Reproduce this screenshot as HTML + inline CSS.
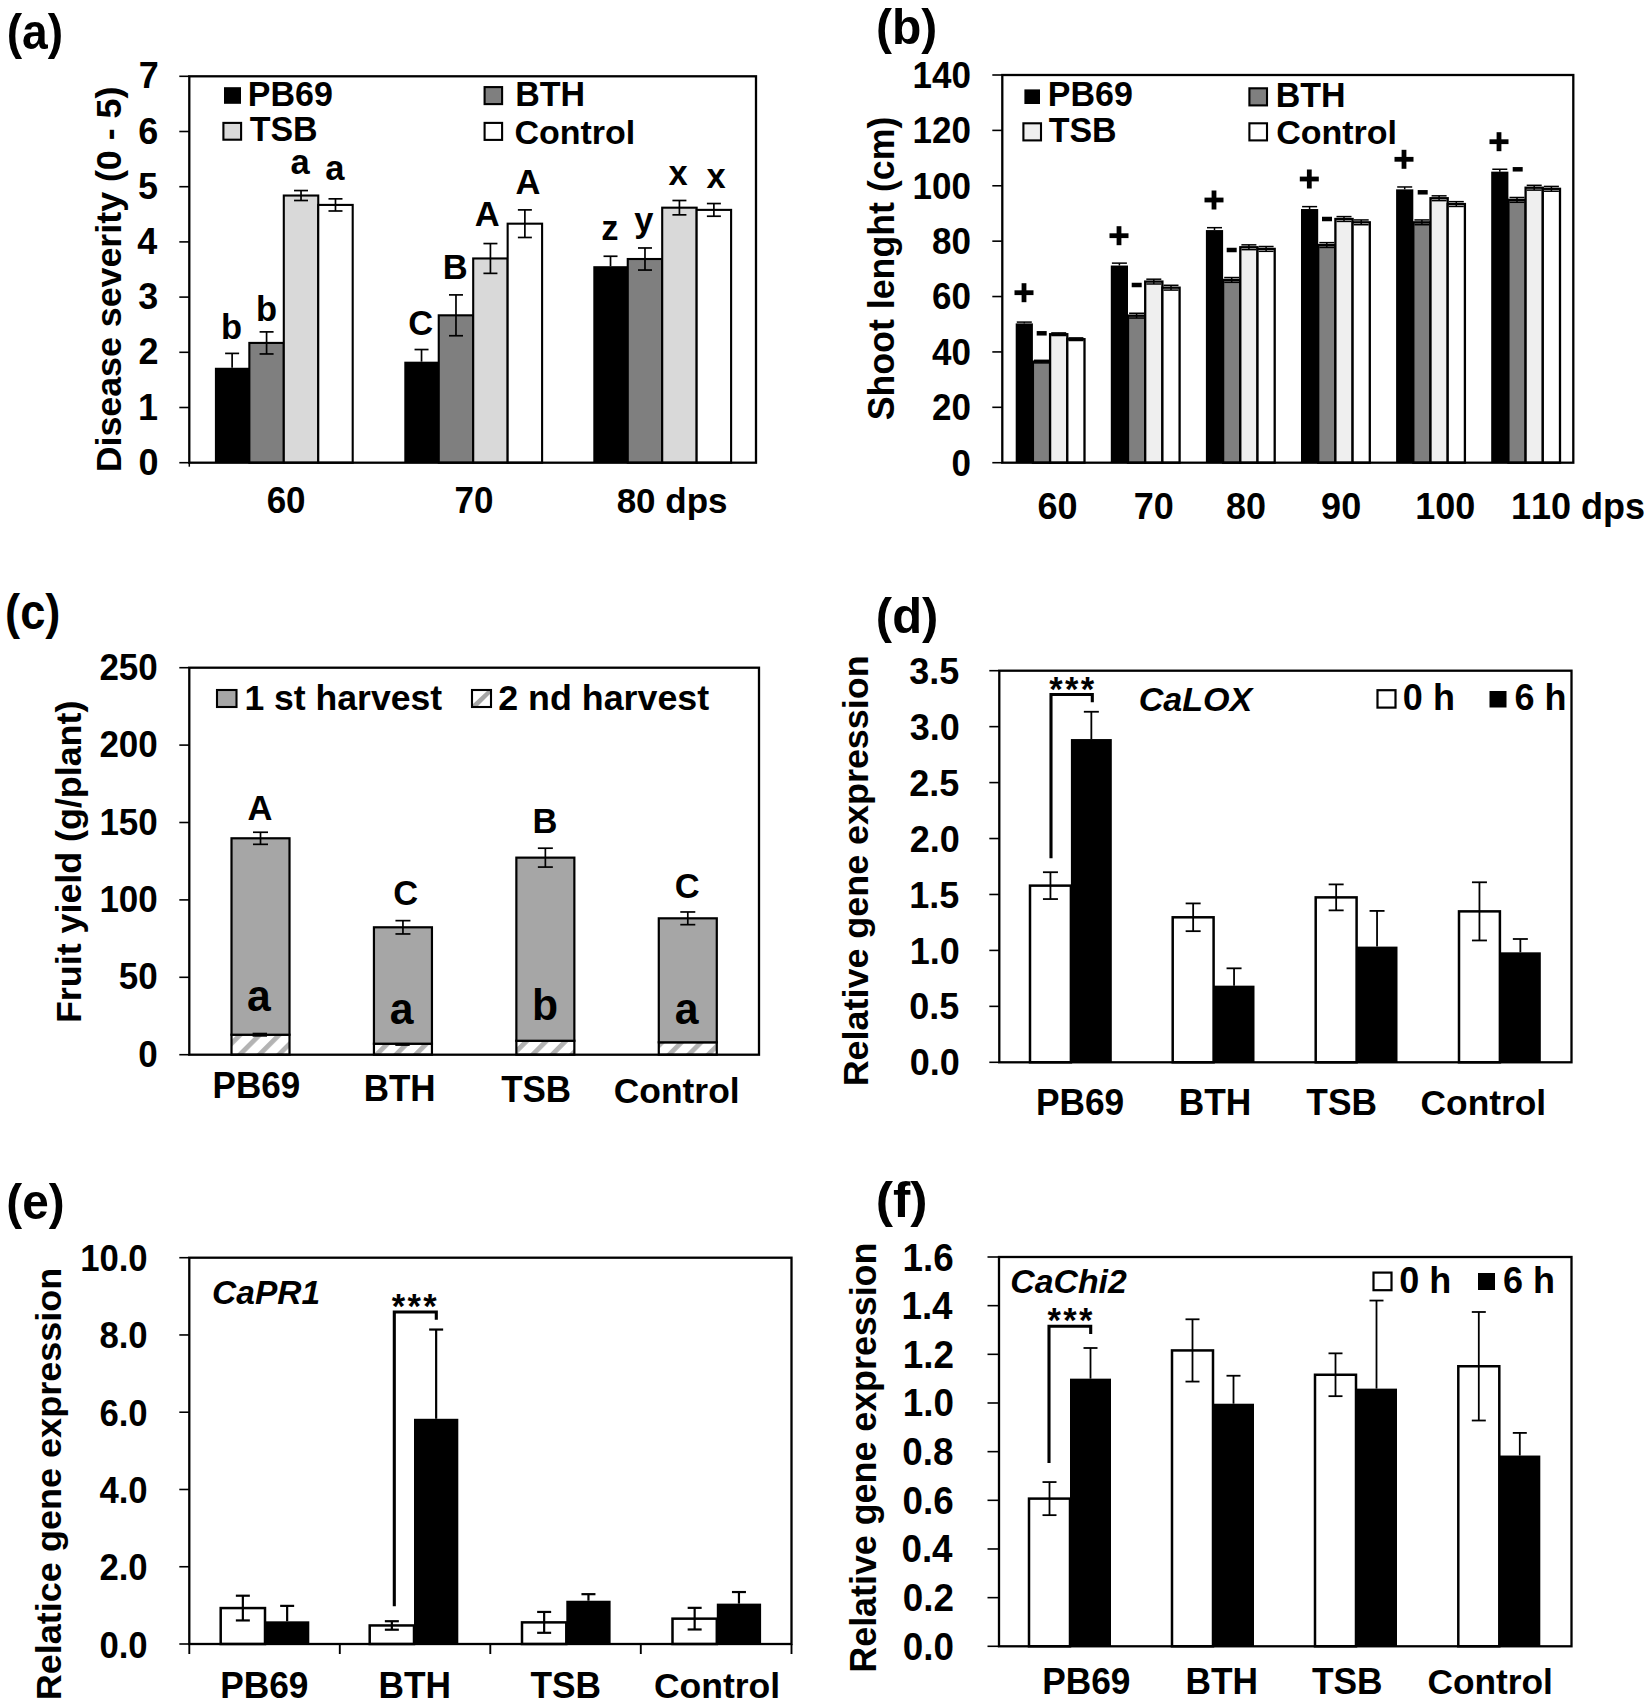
<!DOCTYPE html>
<html><head><meta charset="utf-8"><title>Figure</title>
<style>html,body{margin:0;padding:0;background:#fff}svg{display:block}text{font-kerning:none;font-family:"Liberation Sans",Arial,sans-serif;font-weight:bold}</style>
</head><body>
<svg width="1650" height="1707" viewBox="0 0 1650 1707">
<rect width="1650" height="1707" fill="#fff"/>
<defs><pattern id="h" width="13.8" height="13.8" patternUnits="userSpaceOnUse" patternTransform="translate(3,0) rotate(45)"><rect width="13.8" height="13.8" fill="#fff"/><rect x="0" width="4.8" height="13.8" fill="#b3b3b3"/></pattern><pattern id="h2" x="472" y="690" width="19" height="17" patternUnits="userSpaceOnUse"><rect width="19" height="17" fill="#fff"/><path d="M1,17 L1,14 L15,1 L18,1 L18,4 L5,17 Z" fill="#a6a6a6"/></pattern></defs>
<rect x="214.90" y="367.76" width="34.45" height="94.94" fill="#000" stroke="none" stroke-width="2.1"/>
<rect x="249.35" y="342.92" width="34.45" height="119.78" fill="#7f7f7f" stroke="#000" stroke-width="2.1"/>
<rect x="283.80" y="195.53" width="34.45" height="267.17" fill="#d9d9d9" stroke="#000" stroke-width="2.1"/>
<rect x="318.25" y="204.92" width="34.45" height="257.78" fill="#fff" stroke="#000" stroke-width="2.1"/>
<line x1="232.12" y1="353.40" x2="232.12" y2="367.76" stroke="#000" stroke-width="1.7" stroke-linecap="butt"/>
<line x1="225.12" y1="353.40" x2="239.12" y2="353.40" stroke="#000" stroke-width="1.7" stroke-linecap="butt"/>
<line x1="266.58" y1="331.88" x2="266.58" y2="353.96" stroke="#000" stroke-width="1.7" stroke-linecap="butt"/>
<line x1="259.58" y1="331.88" x2="273.58" y2="331.88" stroke="#000" stroke-width="1.7" stroke-linecap="butt"/>
<line x1="259.58" y1="353.96" x2="273.58" y2="353.96" stroke="#000" stroke-width="1.7" stroke-linecap="butt"/>
<line x1="301.03" y1="190.56" x2="301.03" y2="200.50" stroke="#000" stroke-width="1.7" stroke-linecap="butt"/>
<line x1="294.03" y1="190.56" x2="308.03" y2="190.56" stroke="#000" stroke-width="1.7" stroke-linecap="butt"/>
<line x1="294.03" y1="200.50" x2="308.03" y2="200.50" stroke="#000" stroke-width="1.7" stroke-linecap="butt"/>
<line x1="335.48" y1="198.84" x2="335.48" y2="210.99" stroke="#000" stroke-width="1.7" stroke-linecap="butt"/>
<line x1="328.48" y1="198.84" x2="342.48" y2="198.84" stroke="#000" stroke-width="1.7" stroke-linecap="butt"/>
<line x1="328.48" y1="210.99" x2="342.48" y2="210.99" stroke="#000" stroke-width="1.7" stroke-linecap="butt"/>
<rect x="404.30" y="361.68" width="34.45" height="101.02" fill="#000" stroke="none" stroke-width="2.1"/>
<rect x="438.75" y="315.32" width="34.45" height="147.38" fill="#7f7f7f" stroke="#000" stroke-width="2.1"/>
<rect x="473.20" y="258.46" width="34.45" height="204.24" fill="#d9d9d9" stroke="#000" stroke-width="2.1"/>
<rect x="507.65" y="223.68" width="34.45" height="239.02" fill="#fff" stroke="#000" stroke-width="2.1"/>
<line x1="421.53" y1="349.54" x2="421.53" y2="361.68" stroke="#000" stroke-width="1.7" stroke-linecap="butt"/>
<line x1="414.53" y1="349.54" x2="428.53" y2="349.54" stroke="#000" stroke-width="1.7" stroke-linecap="butt"/>
<line x1="455.98" y1="294.89" x2="455.98" y2="335.74" stroke="#000" stroke-width="1.7" stroke-linecap="butt"/>
<line x1="448.98" y1="294.89" x2="462.98" y2="294.89" stroke="#000" stroke-width="1.7" stroke-linecap="butt"/>
<line x1="448.98" y1="335.74" x2="462.98" y2="335.74" stroke="#000" stroke-width="1.7" stroke-linecap="butt"/>
<line x1="490.43" y1="243.56" x2="490.43" y2="273.36" stroke="#000" stroke-width="1.7" stroke-linecap="butt"/>
<line x1="483.43" y1="243.56" x2="497.43" y2="243.56" stroke="#000" stroke-width="1.7" stroke-linecap="butt"/>
<line x1="483.43" y1="273.36" x2="497.43" y2="273.36" stroke="#000" stroke-width="1.7" stroke-linecap="butt"/>
<line x1="524.88" y1="209.88" x2="524.88" y2="237.48" stroke="#000" stroke-width="1.7" stroke-linecap="butt"/>
<line x1="517.88" y1="209.88" x2="531.88" y2="209.88" stroke="#000" stroke-width="1.7" stroke-linecap="butt"/>
<line x1="517.88" y1="237.48" x2="531.88" y2="237.48" stroke="#000" stroke-width="1.7" stroke-linecap="butt"/>
<rect x="593.30" y="266.19" width="34.45" height="196.51" fill="#000" stroke="none" stroke-width="2.1"/>
<rect x="627.75" y="259.01" width="34.45" height="203.69" fill="#7f7f7f" stroke="#000" stroke-width="2.1"/>
<rect x="662.20" y="207.68" width="34.45" height="255.02" fill="#d9d9d9" stroke="#000" stroke-width="2.1"/>
<rect x="696.65" y="209.88" width="34.45" height="252.82" fill="#fff" stroke="#000" stroke-width="2.1"/>
<line x1="610.52" y1="256.25" x2="610.52" y2="266.19" stroke="#000" stroke-width="1.7" stroke-linecap="butt"/>
<line x1="603.52" y1="256.25" x2="617.52" y2="256.25" stroke="#000" stroke-width="1.7" stroke-linecap="butt"/>
<line x1="644.98" y1="247.97" x2="644.98" y2="270.05" stroke="#000" stroke-width="1.7" stroke-linecap="butt"/>
<line x1="637.98" y1="247.97" x2="651.98" y2="247.97" stroke="#000" stroke-width="1.7" stroke-linecap="butt"/>
<line x1="637.98" y1="270.05" x2="651.98" y2="270.05" stroke="#000" stroke-width="1.7" stroke-linecap="butt"/>
<line x1="679.42" y1="200.50" x2="679.42" y2="214.85" stroke="#000" stroke-width="1.7" stroke-linecap="butt"/>
<line x1="672.42" y1="200.50" x2="686.42" y2="200.50" stroke="#000" stroke-width="1.7" stroke-linecap="butt"/>
<line x1="672.42" y1="214.85" x2="686.42" y2="214.85" stroke="#000" stroke-width="1.7" stroke-linecap="butt"/>
<line x1="713.88" y1="203.54" x2="713.88" y2="216.23" stroke="#000" stroke-width="1.7" stroke-linecap="butt"/>
<line x1="706.88" y1="203.54" x2="720.88" y2="203.54" stroke="#000" stroke-width="1.7" stroke-linecap="butt"/>
<line x1="706.88" y1="216.23" x2="720.88" y2="216.23" stroke="#000" stroke-width="1.7" stroke-linecap="butt"/>
<rect x="189.30" y="76.30" width="566.70" height="386.40" fill="none" stroke="#000" stroke-width="2.3"/>
<line x1="189.30" y1="462.70" x2="189.30" y2="466.70" stroke="#000" stroke-width="1.5" stroke-linecap="butt"/>
<line x1="179.30" y1="462.70" x2="189.30" y2="462.70" stroke="#000" stroke-width="1.6" stroke-linecap="butt"/>
<text transform="translate(138.46,474.80) scale(1.0000,1.040)" font-size="36" fill="#000">0</text>
<line x1="179.30" y1="407.50" x2="189.30" y2="407.50" stroke="#000" stroke-width="1.6" stroke-linecap="butt"/>
<text transform="translate(137.92,419.60) scale(1.0000,1.040)" font-size="36" fill="#000">1</text>
<line x1="179.30" y1="352.30" x2="189.30" y2="352.30" stroke="#000" stroke-width="1.6" stroke-linecap="butt"/>
<text transform="translate(138.46,364.40) scale(1.0000,1.040)" font-size="36" fill="#000">2</text>
<line x1="179.30" y1="297.10" x2="189.30" y2="297.10" stroke="#000" stroke-width="1.6" stroke-linecap="butt"/>
<text transform="translate(138.28,309.20) scale(1.0000,1.040)" font-size="36" fill="#000">3</text>
<line x1="179.30" y1="241.90" x2="189.30" y2="241.90" stroke="#000" stroke-width="1.6" stroke-linecap="butt"/>
<text transform="translate(137.20,254.00) scale(1.0000,1.040)" font-size="36" fill="#000">4</text>
<line x1="179.30" y1="186.70" x2="189.30" y2="186.70" stroke="#000" stroke-width="1.6" stroke-linecap="butt"/>
<text transform="translate(137.92,198.80) scale(1.0000,1.040)" font-size="36" fill="#000">5</text>
<line x1="179.30" y1="131.50" x2="189.30" y2="131.50" stroke="#000" stroke-width="1.6" stroke-linecap="butt"/>
<text transform="translate(138.28,143.60) scale(1.0000,1.040)" font-size="36" fill="#000">6</text>
<line x1="179.30" y1="76.30" x2="189.30" y2="76.30" stroke="#000" stroke-width="1.6" stroke-linecap="butt"/>
<text transform="translate(138.64,88.40) scale(1.0000,1.040)" font-size="36" fill="#000">7</text>
<text transform="translate(121.00,472.33) rotate(-90) scale(0.9937,1)" font-size="36">Disease severity (0 - 5)</text>
<rect x="224.00" y="87.20" width="17.00" height="16.60" fill="#000" stroke="none" stroke-width="2.1"/>
<text transform="translate(247.79,106.00) scale(1.0000,1.040)" font-size="34" fill="#000">PB69</text>
<rect x="223.40" y="122.90" width="17.70" height="16.80" fill="#d9d9d9" stroke="#000" stroke-width="2.1"/>
<text transform="translate(249.66,141.30) scale(1.0000,1.040)" font-size="34" fill="#000">TSB</text>
<rect x="484.60" y="87.10" width="17.50" height="17.00" fill="#7f7f7f" stroke="#000" stroke-width="2.1"/>
<text transform="translate(515.29,106.00) scale(1.0000,1.040)" font-size="34" fill="#000">BTH</text>
<rect x="484.60" y="122.90" width="17.50" height="17.00" fill="#fff" stroke="#000" stroke-width="2.1"/>
<text transform="translate(514.44,144.00)" font-size="34" fill="#000">Control</text>
<text transform="translate(221.05,338.50)" font-size="34.5" fill="#000">b</text>
<text transform="translate(256.05,320.50)" font-size="34.5" fill="#000">b</text>
<text transform="translate(290.57,173.75)" font-size="34.5" fill="#000">a</text>
<text transform="translate(325.22,180.00)" font-size="34.5" fill="#000">a</text>
<text transform="translate(408.32,334.50) scale(1.0000,1.040)" font-size="34.5" fill="#000">C</text>
<text transform="translate(442.84,278.50) scale(1.0000,1.040)" font-size="34.5" fill="#000">B</text>
<text transform="translate(474.83,225.50) scale(1.0000,1.040)" font-size="34.5" fill="#000">A</text>
<text transform="translate(515.58,193.75) scale(1.0000,1.040)" font-size="34.5" fill="#000">A</text>
<text transform="translate(601.29,239.50)" font-size="34.5" fill="#000">z</text>
<text transform="translate(634.34,232.00)" font-size="34.5" fill="#000">y</text>
<text transform="translate(668.43,184.50)" font-size="34.5" fill="#000">x</text>
<text transform="translate(706.43,188.00)" font-size="34.5" fill="#000">x</text>
<text transform="translate(266.66,512.50) scale(1.0000,1.040)" font-size="35" fill="#000">60</text>
<text transform="translate(454.49,512.50) scale(1.0000,1.040)" font-size="35" fill="#000">70</text>
<text transform="translate(616.65,512.50)" font-size="35" fill="#000">80 dps</text>
<text transform="translate(6.69,48.50) scale(0.9244,1.000)" font-size="50" fill="#000">(a)</text>
<rect x="1015.70" y="323.40" width="17.20" height="139.30" fill="#000" stroke="none" stroke-width="2.3"/>
<rect x="1032.90" y="361.62" width="17.20" height="101.08" fill="#7f7f7f" stroke="#000" stroke-width="2.3"/>
<rect x="1050.10" y="334.21" width="17.20" height="128.49" fill="#efefef" stroke="#000" stroke-width="2.3"/>
<rect x="1067.30" y="339.19" width="17.20" height="123.51" fill="#fff" stroke="#000" stroke-width="2.3"/>
<line x1="1024.30" y1="322.10" x2="1024.30" y2="323.40" stroke="#000" stroke-width="1.5" stroke-linecap="butt"/>
<line x1="1016.80" y1="322.10" x2="1031.80" y2="322.10" stroke="#000" stroke-width="1.5" stroke-linecap="butt"/>
<line x1="1041.50" y1="360.32" x2="1041.50" y2="362.92" stroke="#000" stroke-width="1.5" stroke-linecap="butt"/>
<line x1="1034.00" y1="360.32" x2="1049.00" y2="360.32" stroke="#000" stroke-width="1.5" stroke-linecap="butt"/>
<line x1="1034.00" y1="362.92" x2="1049.00" y2="362.92" stroke="#000" stroke-width="1.5" stroke-linecap="butt"/>
<line x1="1058.70" y1="332.91" x2="1058.70" y2="335.51" stroke="#000" stroke-width="1.5" stroke-linecap="butt"/>
<line x1="1051.20" y1="332.91" x2="1066.20" y2="332.91" stroke="#000" stroke-width="1.5" stroke-linecap="butt"/>
<line x1="1051.20" y1="335.51" x2="1066.20" y2="335.51" stroke="#000" stroke-width="1.5" stroke-linecap="butt"/>
<line x1="1075.90" y1="337.89" x2="1075.90" y2="340.49" stroke="#000" stroke-width="1.5" stroke-linecap="butt"/>
<line x1="1068.40" y1="337.89" x2="1083.40" y2="337.89" stroke="#000" stroke-width="1.5" stroke-linecap="butt"/>
<line x1="1068.40" y1="340.49" x2="1083.40" y2="340.49" stroke="#000" stroke-width="1.5" stroke-linecap="butt"/>
<rect x="1110.80" y="265.53" width="17.20" height="197.17" fill="#000" stroke="none" stroke-width="2.3"/>
<rect x="1128.00" y="315.65" width="17.20" height="147.05" fill="#7f7f7f" stroke="#000" stroke-width="2.3"/>
<rect x="1145.20" y="281.59" width="17.20" height="181.11" fill="#efefef" stroke="#000" stroke-width="2.3"/>
<rect x="1162.40" y="287.68" width="17.20" height="175.02" fill="#fff" stroke="#000" stroke-width="2.3"/>
<line x1="1119.40" y1="263.13" x2="1119.40" y2="265.53" stroke="#000" stroke-width="1.5" stroke-linecap="butt"/>
<line x1="1111.90" y1="263.13" x2="1126.90" y2="263.13" stroke="#000" stroke-width="1.5" stroke-linecap="butt"/>
<line x1="1136.60" y1="313.25" x2="1136.60" y2="318.05" stroke="#000" stroke-width="1.5" stroke-linecap="butt"/>
<line x1="1129.10" y1="313.25" x2="1144.10" y2="313.25" stroke="#000" stroke-width="1.5" stroke-linecap="butt"/>
<line x1="1129.10" y1="318.05" x2="1144.10" y2="318.05" stroke="#000" stroke-width="1.5" stroke-linecap="butt"/>
<line x1="1153.80" y1="279.19" x2="1153.80" y2="283.99" stroke="#000" stroke-width="1.5" stroke-linecap="butt"/>
<line x1="1146.30" y1="279.19" x2="1161.30" y2="279.19" stroke="#000" stroke-width="1.5" stroke-linecap="butt"/>
<line x1="1146.30" y1="283.99" x2="1161.30" y2="283.99" stroke="#000" stroke-width="1.5" stroke-linecap="butt"/>
<line x1="1171.00" y1="285.28" x2="1171.00" y2="290.08" stroke="#000" stroke-width="1.5" stroke-linecap="butt"/>
<line x1="1163.50" y1="285.28" x2="1178.50" y2="285.28" stroke="#000" stroke-width="1.5" stroke-linecap="butt"/>
<line x1="1163.50" y1="290.08" x2="1178.50" y2="290.08" stroke="#000" stroke-width="1.5" stroke-linecap="butt"/>
<rect x="1205.90" y="230.08" width="17.20" height="232.62" fill="#000" stroke="none" stroke-width="2.3"/>
<rect x="1223.10" y="279.93" width="17.20" height="182.77" fill="#7f7f7f" stroke="#000" stroke-width="2.3"/>
<rect x="1240.30" y="247.25" width="17.20" height="215.45" fill="#efefef" stroke="#000" stroke-width="2.3"/>
<rect x="1257.50" y="248.91" width="17.20" height="213.79" fill="#fff" stroke="#000" stroke-width="2.3"/>
<line x1="1214.50" y1="227.68" x2="1214.50" y2="230.08" stroke="#000" stroke-width="1.5" stroke-linecap="butt"/>
<line x1="1207.00" y1="227.68" x2="1222.00" y2="227.68" stroke="#000" stroke-width="1.5" stroke-linecap="butt"/>
<line x1="1231.70" y1="277.53" x2="1231.70" y2="282.33" stroke="#000" stroke-width="1.5" stroke-linecap="butt"/>
<line x1="1224.20" y1="277.53" x2="1239.20" y2="277.53" stroke="#000" stroke-width="1.5" stroke-linecap="butt"/>
<line x1="1224.20" y1="282.33" x2="1239.20" y2="282.33" stroke="#000" stroke-width="1.5" stroke-linecap="butt"/>
<line x1="1248.90" y1="244.85" x2="1248.90" y2="249.65" stroke="#000" stroke-width="1.5" stroke-linecap="butt"/>
<line x1="1241.40" y1="244.85" x2="1256.40" y2="244.85" stroke="#000" stroke-width="1.5" stroke-linecap="butt"/>
<line x1="1241.40" y1="249.65" x2="1256.40" y2="249.65" stroke="#000" stroke-width="1.5" stroke-linecap="butt"/>
<line x1="1266.10" y1="246.51" x2="1266.10" y2="251.31" stroke="#000" stroke-width="1.5" stroke-linecap="butt"/>
<line x1="1258.60" y1="246.51" x2="1273.60" y2="246.51" stroke="#000" stroke-width="1.5" stroke-linecap="butt"/>
<line x1="1258.60" y1="251.31" x2="1273.60" y2="251.31" stroke="#000" stroke-width="1.5" stroke-linecap="butt"/>
<rect x="1301.00" y="209.03" width="17.20" height="253.67" fill="#000" stroke="none" stroke-width="2.3"/>
<rect x="1318.20" y="245.03" width="17.20" height="217.67" fill="#7f7f7f" stroke="#000" stroke-width="2.3"/>
<rect x="1335.40" y="219.00" width="17.20" height="243.70" fill="#efefef" stroke="#000" stroke-width="2.3"/>
<rect x="1352.60" y="222.33" width="17.20" height="240.37" fill="#fff" stroke="#000" stroke-width="2.3"/>
<line x1="1309.60" y1="206.63" x2="1309.60" y2="209.03" stroke="#000" stroke-width="1.5" stroke-linecap="butt"/>
<line x1="1302.10" y1="206.63" x2="1317.10" y2="206.63" stroke="#000" stroke-width="1.5" stroke-linecap="butt"/>
<line x1="1326.80" y1="242.63" x2="1326.80" y2="247.43" stroke="#000" stroke-width="1.5" stroke-linecap="butt"/>
<line x1="1319.30" y1="242.63" x2="1334.30" y2="242.63" stroke="#000" stroke-width="1.5" stroke-linecap="butt"/>
<line x1="1319.30" y1="247.43" x2="1334.30" y2="247.43" stroke="#000" stroke-width="1.5" stroke-linecap="butt"/>
<line x1="1344.00" y1="216.60" x2="1344.00" y2="221.40" stroke="#000" stroke-width="1.5" stroke-linecap="butt"/>
<line x1="1336.50" y1="216.60" x2="1351.50" y2="216.60" stroke="#000" stroke-width="1.5" stroke-linecap="butt"/>
<line x1="1336.50" y1="221.40" x2="1351.50" y2="221.40" stroke="#000" stroke-width="1.5" stroke-linecap="butt"/>
<line x1="1361.20" y1="219.93" x2="1361.20" y2="224.73" stroke="#000" stroke-width="1.5" stroke-linecap="butt"/>
<line x1="1353.70" y1="219.93" x2="1368.70" y2="219.93" stroke="#000" stroke-width="1.5" stroke-linecap="butt"/>
<line x1="1353.70" y1="224.73" x2="1368.70" y2="224.73" stroke="#000" stroke-width="1.5" stroke-linecap="butt"/>
<rect x="1396.10" y="189.37" width="17.20" height="273.33" fill="#000" stroke="none" stroke-width="2.3"/>
<rect x="1413.30" y="222.33" width="17.20" height="240.37" fill="#7f7f7f" stroke="#000" stroke-width="2.3"/>
<rect x="1430.50" y="198.23" width="17.20" height="264.47" fill="#efefef" stroke="#000" stroke-width="2.3"/>
<rect x="1447.70" y="204.05" width="17.20" height="258.65" fill="#fff" stroke="#000" stroke-width="2.3"/>
<line x1="1404.70" y1="186.97" x2="1404.70" y2="189.37" stroke="#000" stroke-width="1.5" stroke-linecap="butt"/>
<line x1="1397.20" y1="186.97" x2="1412.20" y2="186.97" stroke="#000" stroke-width="1.5" stroke-linecap="butt"/>
<line x1="1421.90" y1="219.93" x2="1421.90" y2="224.73" stroke="#000" stroke-width="1.5" stroke-linecap="butt"/>
<line x1="1414.40" y1="219.93" x2="1429.40" y2="219.93" stroke="#000" stroke-width="1.5" stroke-linecap="butt"/>
<line x1="1414.40" y1="224.73" x2="1429.40" y2="224.73" stroke="#000" stroke-width="1.5" stroke-linecap="butt"/>
<line x1="1439.10" y1="195.83" x2="1439.10" y2="200.63" stroke="#000" stroke-width="1.5" stroke-linecap="butt"/>
<line x1="1431.60" y1="195.83" x2="1446.60" y2="195.83" stroke="#000" stroke-width="1.5" stroke-linecap="butt"/>
<line x1="1431.60" y1="200.63" x2="1446.60" y2="200.63" stroke="#000" stroke-width="1.5" stroke-linecap="butt"/>
<line x1="1456.30" y1="201.65" x2="1456.30" y2="206.45" stroke="#000" stroke-width="1.5" stroke-linecap="butt"/>
<line x1="1448.80" y1="201.65" x2="1463.80" y2="201.65" stroke="#000" stroke-width="1.5" stroke-linecap="butt"/>
<line x1="1448.80" y1="206.45" x2="1463.80" y2="206.45" stroke="#000" stroke-width="1.5" stroke-linecap="butt"/>
<rect x="1491.20" y="171.65" width="17.20" height="291.05" fill="#000" stroke="none" stroke-width="2.3"/>
<rect x="1508.40" y="199.89" width="17.20" height="262.81" fill="#7f7f7f" stroke="#000" stroke-width="2.3"/>
<rect x="1525.60" y="187.71" width="17.20" height="274.99" fill="#efefef" stroke="#000" stroke-width="2.3"/>
<rect x="1542.80" y="188.82" width="17.20" height="273.88" fill="#fff" stroke="#000" stroke-width="2.3"/>
<line x1="1499.80" y1="169.25" x2="1499.80" y2="171.65" stroke="#000" stroke-width="1.5" stroke-linecap="butt"/>
<line x1="1492.30" y1="169.25" x2="1507.30" y2="169.25" stroke="#000" stroke-width="1.5" stroke-linecap="butt"/>
<line x1="1517.00" y1="197.49" x2="1517.00" y2="202.29" stroke="#000" stroke-width="1.5" stroke-linecap="butt"/>
<line x1="1509.50" y1="197.49" x2="1524.50" y2="197.49" stroke="#000" stroke-width="1.5" stroke-linecap="butt"/>
<line x1="1509.50" y1="202.29" x2="1524.50" y2="202.29" stroke="#000" stroke-width="1.5" stroke-linecap="butt"/>
<line x1="1534.20" y1="185.31" x2="1534.20" y2="190.11" stroke="#000" stroke-width="1.5" stroke-linecap="butt"/>
<line x1="1526.70" y1="185.31" x2="1541.70" y2="185.31" stroke="#000" stroke-width="1.5" stroke-linecap="butt"/>
<line x1="1526.70" y1="190.11" x2="1541.70" y2="190.11" stroke="#000" stroke-width="1.5" stroke-linecap="butt"/>
<line x1="1551.40" y1="186.42" x2="1551.40" y2="191.22" stroke="#000" stroke-width="1.5" stroke-linecap="butt"/>
<line x1="1543.90" y1="186.42" x2="1558.90" y2="186.42" stroke="#000" stroke-width="1.5" stroke-linecap="butt"/>
<line x1="1543.90" y1="191.22" x2="1558.90" y2="191.22" stroke="#000" stroke-width="1.5" stroke-linecap="butt"/>
<rect x="1002.30" y="75.00" width="571.00" height="387.70" fill="none" stroke="#000" stroke-width="2.3"/>
<line x1="992.30" y1="462.70" x2="1002.30" y2="462.70" stroke="#000" stroke-width="1.6" stroke-linecap="butt"/>
<text transform="translate(951.48,475.60) scale(1.0000,1.040)" font-size="35" fill="#000">0</text>
<line x1="992.30" y1="407.31" x2="1002.30" y2="407.31" stroke="#000" stroke-width="1.6" stroke-linecap="butt"/>
<text transform="translate(932.05,420.21) scale(1.0000,1.040)" font-size="35" fill="#000">20</text>
<line x1="992.30" y1="351.93" x2="1002.30" y2="351.93" stroke="#000" stroke-width="1.6" stroke-linecap="butt"/>
<text transform="translate(932.05,364.83) scale(1.0000,1.040)" font-size="35" fill="#000">40</text>
<line x1="992.30" y1="296.54" x2="1002.30" y2="296.54" stroke="#000" stroke-width="1.6" stroke-linecap="butt"/>
<text transform="translate(932.05,309.44) scale(1.0000,1.040)" font-size="35" fill="#000">60</text>
<line x1="992.30" y1="241.16" x2="1002.30" y2="241.16" stroke="#000" stroke-width="1.6" stroke-linecap="butt"/>
<text transform="translate(932.05,254.06) scale(1.0000,1.040)" font-size="35" fill="#000">80</text>
<line x1="992.30" y1="185.77" x2="1002.30" y2="185.77" stroke="#000" stroke-width="1.6" stroke-linecap="butt"/>
<text transform="translate(912.62,198.67) scale(1.0000,1.040)" font-size="35" fill="#000">100</text>
<line x1="992.30" y1="130.39" x2="1002.30" y2="130.39" stroke="#000" stroke-width="1.6" stroke-linecap="butt"/>
<text transform="translate(912.62,143.29) scale(1.0000,1.040)" font-size="35" fill="#000">120</text>
<line x1="992.30" y1="75.00" x2="1002.30" y2="75.00" stroke="#000" stroke-width="1.6" stroke-linecap="butt"/>
<text transform="translate(912.62,87.90) scale(1.0000,1.040)" font-size="35" fill="#000">140</text>
<text transform="translate(894.00,420.37) rotate(-90) scale(0.9930,1)" font-size="36">Shoot lenght (cm)</text>
<rect x="1024.40" y="89.40" width="15.60" height="14.60" fill="#000" stroke="none" stroke-width="2.1"/>
<text transform="translate(1047.79,106.25) scale(1.0000,1.040)" font-size="34" fill="#000">PB69</text>
<rect x="1023.40" y="123.30" width="17.60" height="17.10" fill="#efefef" stroke="#000" stroke-width="2.1"/>
<text transform="translate(1048.66,142.00) scale(1.0000,1.040)" font-size="34" fill="#000">TSB</text>
<rect x="1249.40" y="88.30" width="17.60" height="17.10" fill="#7f7f7f" stroke="#000" stroke-width="2.1"/>
<text transform="translate(1275.79,107.00) scale(1.0000,1.040)" font-size="34" fill="#000">BTH</text>
<rect x="1249.40" y="123.30" width="17.60" height="17.10" fill="#fff" stroke="#000" stroke-width="2.1"/>
<text transform="translate(1276.14,144.25)" font-size="34" fill="#000">Control</text>
<line x1="1014.50" y1="292.70" x2="1033.50" y2="292.70" stroke="#000" stroke-width="4.8" stroke-linecap="butt"/>
<line x1="1024.00" y1="283.20" x2="1024.00" y2="302.20" stroke="#000" stroke-width="4.8" stroke-linecap="butt"/>
<line x1="1109.50" y1="235.70" x2="1128.50" y2="235.70" stroke="#000" stroke-width="4.8" stroke-linecap="butt"/>
<line x1="1119.00" y1="226.20" x2="1119.00" y2="245.20" stroke="#000" stroke-width="4.8" stroke-linecap="butt"/>
<line x1="1204.50" y1="200.00" x2="1223.50" y2="200.00" stroke="#000" stroke-width="4.8" stroke-linecap="butt"/>
<line x1="1214.00" y1="190.50" x2="1214.00" y2="209.50" stroke="#000" stroke-width="4.8" stroke-linecap="butt"/>
<line x1="1299.80" y1="179.00" x2="1318.80" y2="179.00" stroke="#000" stroke-width="4.8" stroke-linecap="butt"/>
<line x1="1309.30" y1="169.50" x2="1309.30" y2="188.50" stroke="#000" stroke-width="4.8" stroke-linecap="butt"/>
<line x1="1394.50" y1="159.30" x2="1413.50" y2="159.30" stroke="#000" stroke-width="4.8" stroke-linecap="butt"/>
<line x1="1404.00" y1="149.80" x2="1404.00" y2="168.80" stroke="#000" stroke-width="4.8" stroke-linecap="butt"/>
<line x1="1489.50" y1="141.70" x2="1508.50" y2="141.70" stroke="#000" stroke-width="4.8" stroke-linecap="butt"/>
<line x1="1499.00" y1="132.20" x2="1499.00" y2="151.20" stroke="#000" stroke-width="4.8" stroke-linecap="butt"/>
<line x1="1036.70" y1="333.30" x2="1046.70" y2="333.30" stroke="#000" stroke-width="4.5" stroke-linecap="butt"/>
<line x1="1131.70" y1="285.00" x2="1141.70" y2="285.00" stroke="#000" stroke-width="4.5" stroke-linecap="butt"/>
<line x1="1226.70" y1="250.00" x2="1236.70" y2="250.00" stroke="#000" stroke-width="4.5" stroke-linecap="butt"/>
<line x1="1322.00" y1="219.00" x2="1332.00" y2="219.00" stroke="#000" stroke-width="4.5" stroke-linecap="butt"/>
<line x1="1417.70" y1="192.30" x2="1427.70" y2="192.30" stroke="#000" stroke-width="4.5" stroke-linecap="butt"/>
<line x1="1512.70" y1="169.30" x2="1522.70" y2="169.30" stroke="#000" stroke-width="4.5" stroke-linecap="butt"/>
<text transform="translate(1037.41,518.50) scale(1.0000,1.040)" font-size="36" fill="#000">60</text>
<text transform="translate(1133.63,518.50) scale(1.0000,1.040)" font-size="36" fill="#000">70</text>
<text transform="translate(1225.90,518.50) scale(1.0000,1.040)" font-size="36" fill="#000">80</text>
<text transform="translate(1321.11,518.50) scale(1.0000,1.040)" font-size="36" fill="#000">90</text>
<text transform="translate(1415.28,518.50) scale(1.0000,1.040)" font-size="36" fill="#000">100</text>
<text transform="translate(1510.96,518.50)" font-size="36" fill="#000">110 dps</text>
<text transform="translate(875.90,43.75) scale(0.9610,1.000)" font-size="50" fill="#000">(b)</text>
<rect x="231.51" y="1034.73" width="58.00" height="19.97" fill="url(#h)" stroke="#000" stroke-width="2.2"/>
<rect x="231.51" y="838.29" width="58.00" height="196.44" fill="#a6a6a6" stroke="#000" stroke-width="2.2"/>
<line x1="260.51" y1="832.25" x2="260.51" y2="844.33" stroke="#000" stroke-width="1.7" stroke-linecap="butt"/>
<line x1="253.01" y1="832.25" x2="268.01" y2="832.25" stroke="#000" stroke-width="1.7" stroke-linecap="butt"/>
<line x1="253.01" y1="844.33" x2="268.01" y2="844.33" stroke="#000" stroke-width="1.7" stroke-linecap="butt"/>
<rect x="373.94" y="1043.71" width="58.00" height="10.99" fill="url(#h)" stroke="#000" stroke-width="2.2"/>
<rect x="373.94" y="927.30" width="58.00" height="116.41" fill="#a6a6a6" stroke="#000" stroke-width="2.2"/>
<line x1="402.94" y1="920.64" x2="402.94" y2="933.96" stroke="#000" stroke-width="1.7" stroke-linecap="butt"/>
<line x1="395.44" y1="920.64" x2="410.44" y2="920.64" stroke="#000" stroke-width="1.7" stroke-linecap="butt"/>
<line x1="395.44" y1="933.96" x2="410.44" y2="933.96" stroke="#000" stroke-width="1.7" stroke-linecap="butt"/>
<rect x="516.36" y="1040.77" width="58.00" height="13.93" fill="url(#h)" stroke="#000" stroke-width="2.2"/>
<rect x="516.36" y="857.64" width="58.00" height="183.13" fill="#a6a6a6" stroke="#000" stroke-width="2.2"/>
<line x1="545.36" y1="848.20" x2="545.36" y2="867.08" stroke="#000" stroke-width="1.7" stroke-linecap="butt"/>
<line x1="537.86" y1="848.20" x2="552.86" y2="848.20" stroke="#000" stroke-width="1.7" stroke-linecap="butt"/>
<line x1="537.86" y1="867.08" x2="552.86" y2="867.08" stroke="#000" stroke-width="1.7" stroke-linecap="butt"/>
<rect x="658.79" y="1042.32" width="58.00" height="12.38" fill="url(#h)" stroke="#000" stroke-width="2.2"/>
<rect x="658.79" y="918.32" width="58.00" height="123.99" fill="#a6a6a6" stroke="#000" stroke-width="2.2"/>
<line x1="687.79" y1="911.97" x2="687.79" y2="924.67" stroke="#000" stroke-width="1.7" stroke-linecap="butt"/>
<line x1="680.29" y1="911.97" x2="695.29" y2="911.97" stroke="#000" stroke-width="1.7" stroke-linecap="butt"/>
<line x1="680.29" y1="924.67" x2="695.29" y2="924.67" stroke="#000" stroke-width="1.7" stroke-linecap="butt"/>
<line x1="252.60" y1="1034.70" x2="267.00" y2="1034.70" stroke="#000" stroke-width="4" stroke-linecap="butt"/>
<line x1="395.30" y1="1044.40" x2="409.70" y2="1044.40" stroke="#000" stroke-width="3" stroke-linecap="butt"/>
<rect x="189.30" y="667.70" width="569.70" height="387.00" fill="none" stroke="#000" stroke-width="2.3"/>
<line x1="179.30" y1="1054.70" x2="189.30" y2="1054.70" stroke="#000" stroke-width="1.6" stroke-linecap="butt"/>
<text transform="translate(138.22,1066.80) scale(1.0000,1.040)" font-size="35" fill="#000">0</text>
<line x1="179.30" y1="977.30" x2="189.30" y2="977.30" stroke="#000" stroke-width="1.6" stroke-linecap="butt"/>
<text transform="translate(118.80,989.40) scale(1.0000,1.040)" font-size="35" fill="#000">50</text>
<line x1="179.30" y1="899.90" x2="189.30" y2="899.90" stroke="#000" stroke-width="1.6" stroke-linecap="butt"/>
<text transform="translate(99.38,912.00) scale(1.0000,1.040)" font-size="35" fill="#000">100</text>
<line x1="179.30" y1="822.50" x2="189.30" y2="822.50" stroke="#000" stroke-width="1.6" stroke-linecap="butt"/>
<text transform="translate(99.38,834.60) scale(1.0000,1.040)" font-size="35" fill="#000">150</text>
<line x1="179.30" y1="745.10" x2="189.30" y2="745.10" stroke="#000" stroke-width="1.6" stroke-linecap="butt"/>
<text transform="translate(99.38,757.20) scale(1.0000,1.040)" font-size="35" fill="#000">200</text>
<line x1="179.30" y1="667.70" x2="189.30" y2="667.70" stroke="#000" stroke-width="1.6" stroke-linecap="butt"/>
<text transform="translate(99.38,679.80) scale(1.0000,1.040)" font-size="35" fill="#000">250</text>
<text transform="translate(81.00,1023.03) rotate(-90) scale(0.9954,1)" font-size="36">Fruit yield (g/plant)</text>
<rect x="217.00" y="690.00" width="19.50" height="17.00" fill="#a6a6a6" stroke="#000" stroke-width="2.1"/>
<text transform="translate(244.39,710.00)" font-size="35.6" fill="#000">1 st harvest</text>
<rect x="472.00" y="690.00" width="19.00" height="17.00" fill="url(#h2)" stroke="#000" stroke-width="2.1"/>
<text transform="translate(498.25,710.00)" font-size="35.8" fill="#000">2 nd harvest</text>
<text transform="translate(247.58,819.70) scale(1.0000,1.040)" font-size="34.5" fill="#000">A</text>
<text transform="translate(393.32,905.30) scale(1.0000,1.040)" font-size="34.5" fill="#000">C</text>
<text transform="translate(532.53,833.00) scale(1.0000,1.040)" font-size="34.5" fill="#000">B</text>
<text transform="translate(674.82,897.50) scale(1.0000,1.040)" font-size="34.5" fill="#000">C</text>
<text transform="translate(247.11,1010.90) scale(0.9700,1.000)" font-size="44" fill="#000">a</text>
<text transform="translate(389.71,1024.30) scale(0.9700,1.000)" font-size="44" fill="#000">a</text>
<text transform="translate(531.95,1020.30) scale(0.9700,1.000)" font-size="44" fill="#000">b</text>
<text transform="translate(674.71,1024.30) scale(0.9700,1.000)" font-size="44" fill="#000">a</text>
<text transform="translate(212.62,1098.40) scale(1.0000,1.040)" font-size="35" fill="#000">PB69</text>
<text transform="translate(363.73,1101.00) scale(1.0000,1.040)" font-size="35" fill="#000">BTH</text>
<text transform="translate(501.15,1102.30) scale(1.0000,1.040)" font-size="35" fill="#000">TSB</text>
<text transform="translate(613.78,1102.70)" font-size="35.4" fill="#000">Control</text>
<text transform="translate(5.03,629.30) scale(0.9067,1.000)" font-size="50" fill="#000">(c)</text>
<rect x="1070.90" y="739.06" width="40.90" height="323.24" fill="#000" stroke="none" stroke-width="2.1"/>
<rect x="1030.00" y="885.63" width="40.90" height="176.67" fill="#fff" stroke="#000" stroke-width="2.5"/>
<line x1="1050.45" y1="872.21" x2="1050.45" y2="899.06" stroke="#000" stroke-width="1.8" stroke-linecap="butt"/>
<line x1="1042.95" y1="872.21" x2="1057.95" y2="872.21" stroke="#000" stroke-width="1.8" stroke-linecap="butt"/>
<line x1="1042.95" y1="899.06" x2="1057.95" y2="899.06" stroke="#000" stroke-width="1.8" stroke-linecap="butt"/>
<line x1="1091.35" y1="711.76" x2="1091.35" y2="739.06" stroke="#000" stroke-width="1.8" stroke-linecap="butt"/>
<line x1="1083.85" y1="711.76" x2="1098.85" y2="711.76" stroke="#000" stroke-width="1.8" stroke-linecap="butt"/>
<rect x="1213.60" y="985.66" width="40.90" height="76.64" fill="#000" stroke="none" stroke-width="2.1"/>
<rect x="1172.70" y="917.30" width="40.90" height="145.00" fill="#fff" stroke="#000" stroke-width="2.5"/>
<line x1="1193.15" y1="903.42" x2="1193.15" y2="931.17" stroke="#000" stroke-width="1.8" stroke-linecap="butt"/>
<line x1="1185.65" y1="903.42" x2="1200.65" y2="903.42" stroke="#000" stroke-width="1.8" stroke-linecap="butt"/>
<line x1="1185.65" y1="931.17" x2="1200.65" y2="931.17" stroke="#000" stroke-width="1.8" stroke-linecap="butt"/>
<line x1="1234.05" y1="968.32" x2="1234.05" y2="985.66" stroke="#000" stroke-width="1.8" stroke-linecap="butt"/>
<line x1="1226.55" y1="968.32" x2="1241.55" y2="968.32" stroke="#000" stroke-width="1.8" stroke-linecap="butt"/>
<rect x="1356.60" y="946.61" width="40.90" height="115.69" fill="#000" stroke="none" stroke-width="2.1"/>
<rect x="1315.70" y="897.38" width="40.90" height="164.92" fill="#fff" stroke="#000" stroke-width="2.5"/>
<line x1="1336.15" y1="884.40" x2="1336.15" y2="910.36" stroke="#000" stroke-width="1.8" stroke-linecap="butt"/>
<line x1="1328.65" y1="884.40" x2="1343.65" y2="884.40" stroke="#000" stroke-width="1.8" stroke-linecap="butt"/>
<line x1="1328.65" y1="910.36" x2="1343.65" y2="910.36" stroke="#000" stroke-width="1.8" stroke-linecap="butt"/>
<line x1="1377.05" y1="910.92" x2="1377.05" y2="946.61" stroke="#000" stroke-width="1.8" stroke-linecap="butt"/>
<line x1="1369.55" y1="910.92" x2="1384.55" y2="910.92" stroke="#000" stroke-width="1.8" stroke-linecap="butt"/>
<rect x="1499.90" y="952.32" width="40.90" height="109.98" fill="#000" stroke="none" stroke-width="2.1"/>
<rect x="1459.00" y="911.37" width="40.90" height="150.93" fill="#fff" stroke="#000" stroke-width="2.5"/>
<line x1="1479.45" y1="882.28" x2="1479.45" y2="940.46" stroke="#000" stroke-width="1.8" stroke-linecap="butt"/>
<line x1="1471.95" y1="882.28" x2="1486.95" y2="882.28" stroke="#000" stroke-width="1.8" stroke-linecap="butt"/>
<line x1="1471.95" y1="940.46" x2="1486.95" y2="940.46" stroke="#000" stroke-width="1.8" stroke-linecap="butt"/>
<line x1="1520.35" y1="939.00" x2="1520.35" y2="952.32" stroke="#000" stroke-width="1.8" stroke-linecap="butt"/>
<line x1="1512.85" y1="939.00" x2="1527.85" y2="939.00" stroke="#000" stroke-width="1.8" stroke-linecap="butt"/>
<rect x="999.30" y="670.70" width="572.20" height="391.60" fill="none" stroke="#000" stroke-width="2.3"/>
<line x1="989.30" y1="1062.30" x2="999.30" y2="1062.30" stroke="#000" stroke-width="1.6" stroke-linecap="butt"/>
<text transform="translate(909.70,1075.40) scale(1.0000,1.040)" font-size="36" fill="#000">0.0</text>
<line x1="989.30" y1="1006.36" x2="999.30" y2="1006.36" stroke="#000" stroke-width="1.6" stroke-linecap="butt"/>
<text transform="translate(909.16,1019.46) scale(1.0000,1.040)" font-size="36" fill="#000">0.5</text>
<line x1="989.30" y1="950.41" x2="999.30" y2="950.41" stroke="#000" stroke-width="1.6" stroke-linecap="butt"/>
<text transform="translate(909.70,963.51) scale(1.0000,1.040)" font-size="36" fill="#000">1.0</text>
<line x1="989.30" y1="894.47" x2="999.30" y2="894.47" stroke="#000" stroke-width="1.6" stroke-linecap="butt"/>
<text transform="translate(909.16,907.57) scale(1.0000,1.040)" font-size="36" fill="#000">1.5</text>
<line x1="989.30" y1="838.53" x2="999.30" y2="838.53" stroke="#000" stroke-width="1.6" stroke-linecap="butt"/>
<text transform="translate(909.70,851.63) scale(1.0000,1.040)" font-size="36" fill="#000">2.0</text>
<line x1="989.30" y1="782.59" x2="999.30" y2="782.59" stroke="#000" stroke-width="1.6" stroke-linecap="butt"/>
<text transform="translate(909.16,795.69) scale(1.0000,1.040)" font-size="36" fill="#000">2.5</text>
<line x1="989.30" y1="726.64" x2="999.30" y2="726.64" stroke="#000" stroke-width="1.6" stroke-linecap="butt"/>
<text transform="translate(909.70,739.74) scale(1.0000,1.040)" font-size="36" fill="#000">3.0</text>
<line x1="989.30" y1="670.70" x2="999.30" y2="670.70" stroke="#000" stroke-width="1.6" stroke-linecap="butt"/>
<text transform="translate(909.16,683.80) scale(1.0000,1.040)" font-size="36" fill="#000">3.5</text>
<text transform="translate(867.50,1086.33) rotate(-90) scale(0.9977,1)" font-size="36">Relative gene expression</text>
<path d="M1051,858.3 V694.5 H1092.3 V702.3" fill="none" stroke="#000" stroke-width="3.1"/>
<text transform="translate(1049.22,700.50)" font-size="34.5" letter-spacing="2.3">***</text>
<text transform="translate(1138.70,710.90)" font-size="34.1" font-style="italic" fill="#000">CaLOX</text>
<rect x="1377.50" y="690.20" width="18.00" height="17.40" fill="#fff" stroke="#000" stroke-width="2.2"/>
<text transform="translate(1402.86,709.70)" font-size="36" fill="#000">0 h</text>
<rect x="1489.50" y="691.00" width="17.00" height="16.50" fill="#000" stroke="none" stroke-width="2.1"/>
<text transform="translate(1514.44,709.70)" font-size="36" fill="#000">6 h</text>
<text transform="translate(1035.91,1114.50) scale(1.0000,1.040)" font-size="35.3" fill="#000">PB69</text>
<text transform="translate(1178.71,1114.50) scale(1.0000,1.040)" font-size="35.3" fill="#000">BTH</text>
<text transform="translate(1306.35,1114.50) scale(1.0000,1.040)" font-size="35.3" fill="#000">TSB</text>
<text transform="translate(1420.59,1114.50)" font-size="35.3" fill="#000">Control</text>
<text transform="translate(875.86,632.50) scale(0.9780,1.000)" font-size="50" fill="#000">(d)</text>
<rect x="265.00" y="1621.32" width="44.30" height="22.68" fill="#000" stroke="none" stroke-width="2.1"/>
<rect x="220.70" y="1608.07" width="44.30" height="35.93" fill="#fff" stroke="#000" stroke-width="2.5"/>
<line x1="242.85" y1="1595.71" x2="242.85" y2="1620.44" stroke="#000" stroke-width="2.2" stroke-linecap="butt"/>
<line x1="235.85" y1="1595.71" x2="249.85" y2="1595.71" stroke="#000" stroke-width="2.2" stroke-linecap="butt"/>
<line x1="235.85" y1="1620.44" x2="249.85" y2="1620.44" stroke="#000" stroke-width="2.2" stroke-linecap="butt"/>
<line x1="287.15" y1="1605.87" x2="287.15" y2="1621.32" stroke="#000" stroke-width="2.2" stroke-linecap="butt"/>
<line x1="280.15" y1="1605.87" x2="294.15" y2="1605.87" stroke="#000" stroke-width="2.2" stroke-linecap="butt"/>
<rect x="414.00" y="1418.79" width="44.30" height="225.21" fill="#000" stroke="none" stroke-width="2.1"/>
<rect x="369.70" y="1625.46" width="44.30" height="18.54" fill="#fff" stroke="#000" stroke-width="2.5"/>
<line x1="391.85" y1="1621.21" x2="391.85" y2="1629.71" stroke="#000" stroke-width="2.2" stroke-linecap="butt"/>
<line x1="384.85" y1="1621.21" x2="398.85" y2="1621.21" stroke="#000" stroke-width="2.2" stroke-linecap="butt"/>
<line x1="384.85" y1="1629.71" x2="398.85" y2="1629.71" stroke="#000" stroke-width="2.2" stroke-linecap="butt"/>
<line x1="436.15" y1="1329.55" x2="436.15" y2="1418.79" stroke="#000" stroke-width="2.2" stroke-linecap="butt"/>
<line x1="429.15" y1="1329.55" x2="443.15" y2="1329.55" stroke="#000" stroke-width="2.2" stroke-linecap="butt"/>
<rect x="566.30" y="1600.73" width="44.30" height="43.27" fill="#000" stroke="none" stroke-width="2.1"/>
<rect x="522.00" y="1622.37" width="44.30" height="21.63" fill="#fff" stroke="#000" stroke-width="2.5"/>
<line x1="544.15" y1="1611.94" x2="544.15" y2="1632.80" stroke="#000" stroke-width="2.2" stroke-linecap="butt"/>
<line x1="537.15" y1="1611.94" x2="551.15" y2="1611.94" stroke="#000" stroke-width="2.2" stroke-linecap="butt"/>
<line x1="537.15" y1="1632.80" x2="551.15" y2="1632.80" stroke="#000" stroke-width="2.2" stroke-linecap="butt"/>
<line x1="588.45" y1="1594.17" x2="588.45" y2="1600.73" stroke="#000" stroke-width="2.2" stroke-linecap="butt"/>
<line x1="581.45" y1="1594.17" x2="595.45" y2="1594.17" stroke="#000" stroke-width="2.2" stroke-linecap="butt"/>
<rect x="716.80" y="1603.63" width="44.30" height="40.37" fill="#000" stroke="none" stroke-width="2.1"/>
<rect x="672.50" y="1618.66" width="44.30" height="25.34" fill="#fff" stroke="#000" stroke-width="2.5"/>
<line x1="694.65" y1="1607.84" x2="694.65" y2="1629.48" stroke="#000" stroke-width="2.2" stroke-linecap="butt"/>
<line x1="687.65" y1="1607.84" x2="701.65" y2="1607.84" stroke="#000" stroke-width="2.2" stroke-linecap="butt"/>
<line x1="687.65" y1="1629.48" x2="701.65" y2="1629.48" stroke="#000" stroke-width="2.2" stroke-linecap="butt"/>
<line x1="738.95" y1="1592.04" x2="738.95" y2="1603.63" stroke="#000" stroke-width="2.2" stroke-linecap="butt"/>
<line x1="731.95" y1="1592.04" x2="745.95" y2="1592.04" stroke="#000" stroke-width="2.2" stroke-linecap="butt"/>
<rect x="189.30" y="1257.70" width="602.20" height="386.30" fill="none" stroke="#000" stroke-width="2.3"/>
<line x1="189.30" y1="1644.00" x2="189.30" y2="1654.00" stroke="#000" stroke-width="1.9" stroke-linecap="butt"/>
<line x1="339.80" y1="1644.00" x2="339.80" y2="1654.00" stroke="#000" stroke-width="1.9" stroke-linecap="butt"/>
<line x1="490.30" y1="1644.00" x2="490.30" y2="1654.00" stroke="#000" stroke-width="1.9" stroke-linecap="butt"/>
<line x1="640.80" y1="1644.00" x2="640.80" y2="1654.00" stroke="#000" stroke-width="1.9" stroke-linecap="butt"/>
<line x1="791.50" y1="1644.00" x2="791.50" y2="1654.00" stroke="#000" stroke-width="1.9" stroke-linecap="butt"/>
<line x1="179.30" y1="1644.00" x2="189.30" y2="1644.00" stroke="#000" stroke-width="1.6" stroke-linecap="butt"/>
<text transform="translate(99.41,1657.50) scale(1.0000,1.040)" font-size="34.7" fill="#000">0.0</text>
<line x1="179.30" y1="1566.74" x2="189.30" y2="1566.74" stroke="#000" stroke-width="1.6" stroke-linecap="butt"/>
<text transform="translate(99.41,1580.24) scale(1.0000,1.040)" font-size="34.7" fill="#000">2.0</text>
<line x1="179.30" y1="1489.48" x2="189.30" y2="1489.48" stroke="#000" stroke-width="1.6" stroke-linecap="butt"/>
<text transform="translate(99.41,1502.98) scale(1.0000,1.040)" font-size="34.7" fill="#000">4.0</text>
<line x1="179.30" y1="1412.22" x2="189.30" y2="1412.22" stroke="#000" stroke-width="1.6" stroke-linecap="butt"/>
<text transform="translate(99.41,1425.72) scale(1.0000,1.040)" font-size="34.7" fill="#000">6.0</text>
<line x1="179.30" y1="1334.96" x2="189.30" y2="1334.96" stroke="#000" stroke-width="1.6" stroke-linecap="butt"/>
<text transform="translate(99.41,1348.46) scale(1.0000,1.040)" font-size="34.7" fill="#000">8.0</text>
<line x1="179.30" y1="1257.70" x2="189.30" y2="1257.70" stroke="#000" stroke-width="1.6" stroke-linecap="butt"/>
<text transform="translate(80.15,1271.20) scale(1.0000,1.040)" font-size="34.7" fill="#000">10.0</text>
<text transform="translate(61.00,1700.34) rotate(-90) scale(1.0014,1)" font-size="36">Relatice gene expression</text>
<path d="M394.3,1606.3 V1312 H436.3 V1319.7" fill="none" stroke="#000" stroke-width="3.1"/>
<text transform="translate(391.82,1318.00)" font-size="34.5" letter-spacing="2.3">***</text>
<text transform="translate(212.07,1303.50)" font-size="33.5" font-style="italic" fill="#000">CaPR1</text>
<text transform="translate(220.21,1697.70) scale(1.0000,1.040)" font-size="35.3" fill="#000">PB69</text>
<text transform="translate(378.41,1697.70) scale(1.0000,1.040)" font-size="35.3" fill="#000">BTH</text>
<text transform="translate(530.45,1697.70) scale(1.0000,1.040)" font-size="35.3" fill="#000">TSB</text>
<text transform="translate(653.88,1697.70)" font-size="35.5" fill="#000">Control</text>
<text transform="translate(6.36,1219.00) scale(0.9556,1.000)" font-size="50" fill="#000">(e)</text>
<rect x="1070.00" y="1378.66" width="41.00" height="267.64" fill="#000" stroke="none" stroke-width="2.1"/>
<rect x="1029.00" y="1498.61" width="41.00" height="147.69" fill="#fff" stroke="#000" stroke-width="2.5"/>
<line x1="1049.50" y1="1482.06" x2="1049.50" y2="1515.15" stroke="#000" stroke-width="1.8" stroke-linecap="butt"/>
<line x1="1042.50" y1="1482.06" x2="1056.50" y2="1482.06" stroke="#000" stroke-width="1.8" stroke-linecap="butt"/>
<line x1="1042.50" y1="1515.15" x2="1056.50" y2="1515.15" stroke="#000" stroke-width="1.8" stroke-linecap="butt"/>
<line x1="1090.50" y1="1348.00" x2="1090.50" y2="1378.66" stroke="#000" stroke-width="1.8" stroke-linecap="butt"/>
<line x1="1083.50" y1="1348.00" x2="1097.50" y2="1348.00" stroke="#000" stroke-width="1.8" stroke-linecap="butt"/>
<rect x="1213.00" y="1403.72" width="41.00" height="242.58" fill="#000" stroke="none" stroke-width="2.1"/>
<rect x="1172.00" y="1350.43" width="41.00" height="295.87" fill="#fff" stroke="#000" stroke-width="2.5"/>
<line x1="1192.50" y1="1319.29" x2="1192.50" y2="1381.58" stroke="#000" stroke-width="1.8" stroke-linecap="butt"/>
<line x1="1185.50" y1="1319.29" x2="1199.50" y2="1319.29" stroke="#000" stroke-width="1.8" stroke-linecap="butt"/>
<line x1="1185.50" y1="1381.58" x2="1199.50" y2="1381.58" stroke="#000" stroke-width="1.8" stroke-linecap="butt"/>
<line x1="1233.50" y1="1375.74" x2="1233.50" y2="1403.72" stroke="#000" stroke-width="1.8" stroke-linecap="butt"/>
<line x1="1226.50" y1="1375.74" x2="1240.50" y2="1375.74" stroke="#000" stroke-width="1.8" stroke-linecap="butt"/>
<rect x="1356.00" y="1388.63" width="41.00" height="257.67" fill="#000" stroke="none" stroke-width="2.1"/>
<rect x="1315.00" y="1374.76" width="41.00" height="271.54" fill="#fff" stroke="#000" stroke-width="2.5"/>
<line x1="1335.50" y1="1353.35" x2="1335.50" y2="1396.17" stroke="#000" stroke-width="1.8" stroke-linecap="butt"/>
<line x1="1328.50" y1="1353.35" x2="1342.50" y2="1353.35" stroke="#000" stroke-width="1.8" stroke-linecap="butt"/>
<line x1="1328.50" y1="1396.17" x2="1342.50" y2="1396.17" stroke="#000" stroke-width="1.8" stroke-linecap="butt"/>
<line x1="1376.50" y1="1300.55" x2="1376.50" y2="1388.63" stroke="#000" stroke-width="1.8" stroke-linecap="butt"/>
<line x1="1369.50" y1="1300.55" x2="1383.50" y2="1300.55" stroke="#000" stroke-width="1.8" stroke-linecap="butt"/>
<rect x="1499.30" y="1455.54" width="41.00" height="190.76" fill="#000" stroke="none" stroke-width="2.1"/>
<rect x="1458.30" y="1366.25" width="41.00" height="280.05" fill="#fff" stroke="#000" stroke-width="2.5"/>
<line x1="1478.80" y1="1311.99" x2="1478.80" y2="1420.51" stroke="#000" stroke-width="1.8" stroke-linecap="butt"/>
<line x1="1471.80" y1="1311.99" x2="1485.80" y2="1311.99" stroke="#000" stroke-width="1.8" stroke-linecap="butt"/>
<line x1="1471.80" y1="1420.51" x2="1485.80" y2="1420.51" stroke="#000" stroke-width="1.8" stroke-linecap="butt"/>
<line x1="1519.80" y1="1432.91" x2="1519.80" y2="1455.54" stroke="#000" stroke-width="1.8" stroke-linecap="butt"/>
<line x1="1512.80" y1="1432.91" x2="1526.80" y2="1432.91" stroke="#000" stroke-width="1.8" stroke-linecap="butt"/>
<rect x="999.00" y="1257.00" width="572.50" height="389.30" fill="none" stroke="#000" stroke-width="2.3"/>
<line x1="987.50" y1="1646.30" x2="999.00" y2="1646.30" stroke="#000" stroke-width="1.6" stroke-linecap="butt"/>
<text transform="translate(902.72,1659.80) scale(1.0000,1.040)" font-size="36.8" fill="#000">0.0</text>
<line x1="987.50" y1="1597.64" x2="999.00" y2="1597.64" stroke="#000" stroke-width="1.6" stroke-linecap="butt"/>
<text transform="translate(902.72,1611.14) scale(1.0000,1.040)" font-size="36.8" fill="#000">0.2</text>
<line x1="987.50" y1="1548.97" x2="999.00" y2="1548.97" stroke="#000" stroke-width="1.6" stroke-linecap="butt"/>
<text transform="translate(901.43,1562.47) scale(1.0000,1.040)" font-size="36.8" fill="#000">0.4</text>
<line x1="987.50" y1="1500.31" x2="999.00" y2="1500.31" stroke="#000" stroke-width="1.6" stroke-linecap="butt"/>
<text transform="translate(902.54,1513.81) scale(1.0000,1.040)" font-size="36.8" fill="#000">0.6</text>
<line x1="987.50" y1="1451.65" x2="999.00" y2="1451.65" stroke="#000" stroke-width="1.6" stroke-linecap="butt"/>
<text transform="translate(902.35,1465.15) scale(1.0000,1.040)" font-size="36.8" fill="#000">0.8</text>
<line x1="987.50" y1="1402.99" x2="999.00" y2="1402.99" stroke="#000" stroke-width="1.6" stroke-linecap="butt"/>
<text transform="translate(902.72,1416.49) scale(1.0000,1.040)" font-size="36.8" fill="#000">1.0</text>
<line x1="987.50" y1="1354.32" x2="999.00" y2="1354.32" stroke="#000" stroke-width="1.6" stroke-linecap="butt"/>
<text transform="translate(902.72,1367.82) scale(1.0000,1.040)" font-size="36.8" fill="#000">1.2</text>
<line x1="987.50" y1="1305.66" x2="999.00" y2="1305.66" stroke="#000" stroke-width="1.6" stroke-linecap="butt"/>
<text transform="translate(901.43,1319.16) scale(1.0000,1.040)" font-size="36.8" fill="#000">1.4</text>
<line x1="987.50" y1="1257.00" x2="999.00" y2="1257.00" stroke="#000" stroke-width="1.6" stroke-linecap="butt"/>
<text transform="translate(902.54,1270.50) scale(1.0000,1.040)" font-size="36.8" fill="#000">1.6</text>
<text transform="translate(875.50,1672.63) rotate(-90) scale(0.9951,1)" font-size="36">Relative gene expression</text>
<path d="M1049,1463 V1326.3 H1090.7 V1334" fill="none" stroke="#000" stroke-width="3.1"/>
<text transform="translate(1047.52,1332.30)" font-size="34.5" letter-spacing="2.3">***</text>
<text transform="translate(1010.31,1292.50)" font-size="33.8" font-style="italic" fill="#000">CaChi2</text>
<rect x="1373.50" y="1272.60" width="18.00" height="17.60" fill="#fff" stroke="#000" stroke-width="2.2"/>
<text transform="translate(1399.26,1293.00)" font-size="36" fill="#000">0 h</text>
<rect x="1478.00" y="1273.00" width="17.00" height="17.00" fill="#000" stroke="none" stroke-width="2.1"/>
<text transform="translate(1503.04,1293.00)" font-size="36" fill="#000">6 h</text>
<text transform="translate(1042.21,1693.50) scale(1.0000,1.040)" font-size="35.3" fill="#000">PB69</text>
<text transform="translate(1185.41,1693.50) scale(1.0000,1.040)" font-size="35.3" fill="#000">BTH</text>
<text transform="translate(1311.95,1693.50) scale(1.0000,1.040)" font-size="35.3" fill="#000">TSB</text>
<text transform="translate(1427.39,1693.50)" font-size="35.3" fill="#000">Control</text>
<text transform="translate(875.71,1217.00) scale(1.0378,1.000)" font-size="50" fill="#000">(f)</text>
</svg>
</body></html>
